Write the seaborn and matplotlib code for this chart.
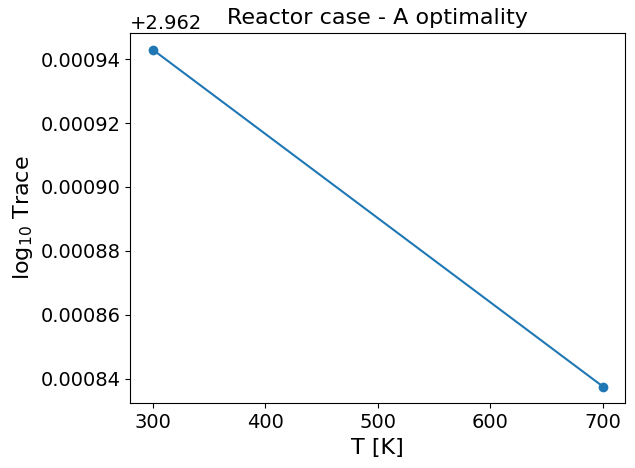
import matplotlib
matplotlib.use("Agg")
import matplotlib.pyplot as plt
import seaborn as sns
import pandas as pd

# données
temperature = [300, 700]
log_trace = [2.962943, 2.9628375]

df = pd.DataFrame({"T": temperature, "logtrace": log_trace})

fig, ax = plt.subplots(figsize=(6.35, 4.68), dpi=100)
sns.lineplot(data=df, x="T", y="logtrace", marker="o", markersize=7,
             markeredgewidth=0, color="#1f77b4", ax=ax)
ax.set_title("Reactor case - A optimality", fontsize=16)
ax.set_xlabel("T [K]", fontsize=16)
ax.set_ylabel(r"log$_{10}$ Trace", fontsize=16)
ax.tick_params(labelsize=14)
ax.yaxis.get_offset_text().set_fontsize(14)
ax.set_xticks([300, 400, 500, 600, 700])
plt.subplots_adjust(left=0.205, right=0.985, top=0.93, bottom=0.138)
plt.savefig("out.png")
